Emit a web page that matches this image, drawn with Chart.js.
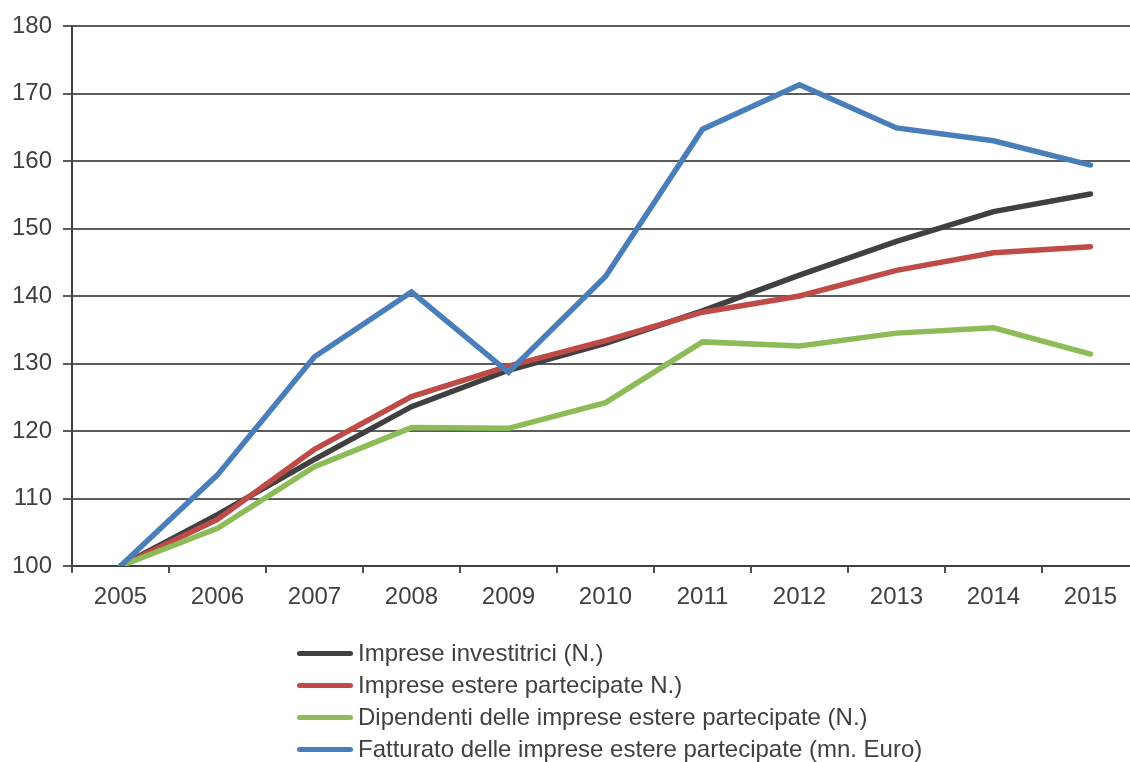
<!DOCTYPE html>
<html>
<head>
<meta charset="utf-8">
<script src="https://cdn.jsdelivr.net/npm/chart.js@4"></script>
<style>
    html, body { margin: 0; padding: 0; background: #fff; overflow: hidden; }
    #wrap { position: relative; width: 1139px; height: 762px; }
    #legend { position: absolute; left: 297px; top: 637px; font: 24px "Liberation Sans", Arial, sans-serif; color: #404040; }
    #legend .item { height: 32px; display: flex; align-items: center; white-space: nowrap; }
    #legend .swatch { width: 56px; height: 5px; border-radius: 3px; margin-right: 5px; }
</style>
</head>
<body>
<div id="wrap">
    <canvas id="indexChart" width="1139" height="762"></canvas>
    <div id="legend"></div>
</div>
<script>
const years = ['2005', '2006', '2007', '2008', '2009', '2010', '2011', '2012', '2013', '2014', '2015'];

// indici 2005 = 100
const investitrici = [100, 107.6, 115.8, 123.6, 129.0, 133.0, 137.8, 143.1, 148.1, 152.5, 155.1];
const partecipate = [100, 106.9, 117.3, 125.1, 129.6, 133.4, 137.6, 140.0, 143.8, 146.4, 147.3];
const dipendenti = [100, 105.6, 114.7, 120.5, 120.4, 124.2, 133.2, 132.6, 134.5, 135.3, 131.4];
const fatturato = [100, 113.5, 131.0, 140.6, 128.7, 142.9, 164.7, 171.3, 164.9, 163.0, 159.4];

const yTicks = [100, 110, 120, 130, 140, 150, 160, 170, 180];

const seriesNames = [
    'Imprese investitrici (N.)',
    'Imprese estere partecipate N.)',
    'Dipendenti delle imprese estere partecipate (N.)',
    'Fatturato delle imprese estere partecipate (mn. Euro)'
];
const seriesColors = ['#404040', '#be4b48', '#8cbb58', '#4a7ebb'];

const fontFamily = '"Liberation Sans", Arial, sans-serif';

const ctx = document.getElementById('indexChart').getContext('2d');
const chart = new Chart(ctx, {
    type: 'line',
    data: {
        labels: years,
        datasets: [investitrici, partecipate, dipendenti, fatturato].map((values, i) => ({
            label: seriesNames[i],
            data: values,
            borderColor: seriesColors[i],
            backgroundColor: seriesColors[i],
            borderWidth: 5.5,
            borderCapStyle: 'round',
            pointRadius: 0,
            tension: 0,
            order: 4 - i
        }))
    },
    options: {
        responsive: false,
        animation: false,
        layout: {
            padding: { top: 26, right: 0, bottom: 146, left: 0 }
        },
        plugins: {
            legend: { display: false },
            title: { display: false },
            tooltip: { enabled: false }
        },
        scales: {
            x: {
                offset: true,
                afterFit: (scale) => { scale.height = 50; },
                grid: {
                    offset: true,
                    drawOnChartArea: false,
                    drawTicks: true,
                    tickLength: 7,
                    color: '#505050',
                    lineWidth: 2
                },
                border: { display: true, color: '#404040', width: 2 },
                ticks: {
                    color: '#404040',
                    padding: 10,
                    maxRotation: 0,
                    font: { family: fontFamily, size: 24 }
                }
            },
            y: {
                min: 100,
                max: 180,
                afterFit: (scale) => { scale.width = 72; },
                afterBuildTicks: (scale) => { scale.ticks = yTicks.map(v => ({ value: v })); },
                grid: {
                    color: '#5c5c5c',
                    lineWidth: 2,
                    tickLength: 9
                },
                border: { display: true, color: '#404040', width: 2 },
                ticks: {
                    color: '#404040',
                    padding: 11,
                    font: { family: fontFamily, size: 24 }
                }
            }
        }
    }
});

// legenda verticale costruita dai dataset
const legendEl = document.getElementById('legend');
chart.data.datasets.forEach(ds => {
    const item = document.createElement('div');
    item.className = 'item';
    const swatch = document.createElement('span');
    swatch.className = 'swatch';
    swatch.style.background = ds.borderColor;
    const text = document.createElement('span');
    text.textContent = ds.label;
    item.appendChild(swatch);
    item.appendChild(text);
    legendEl.appendChild(item);
});
</script>
</body>
</html>
